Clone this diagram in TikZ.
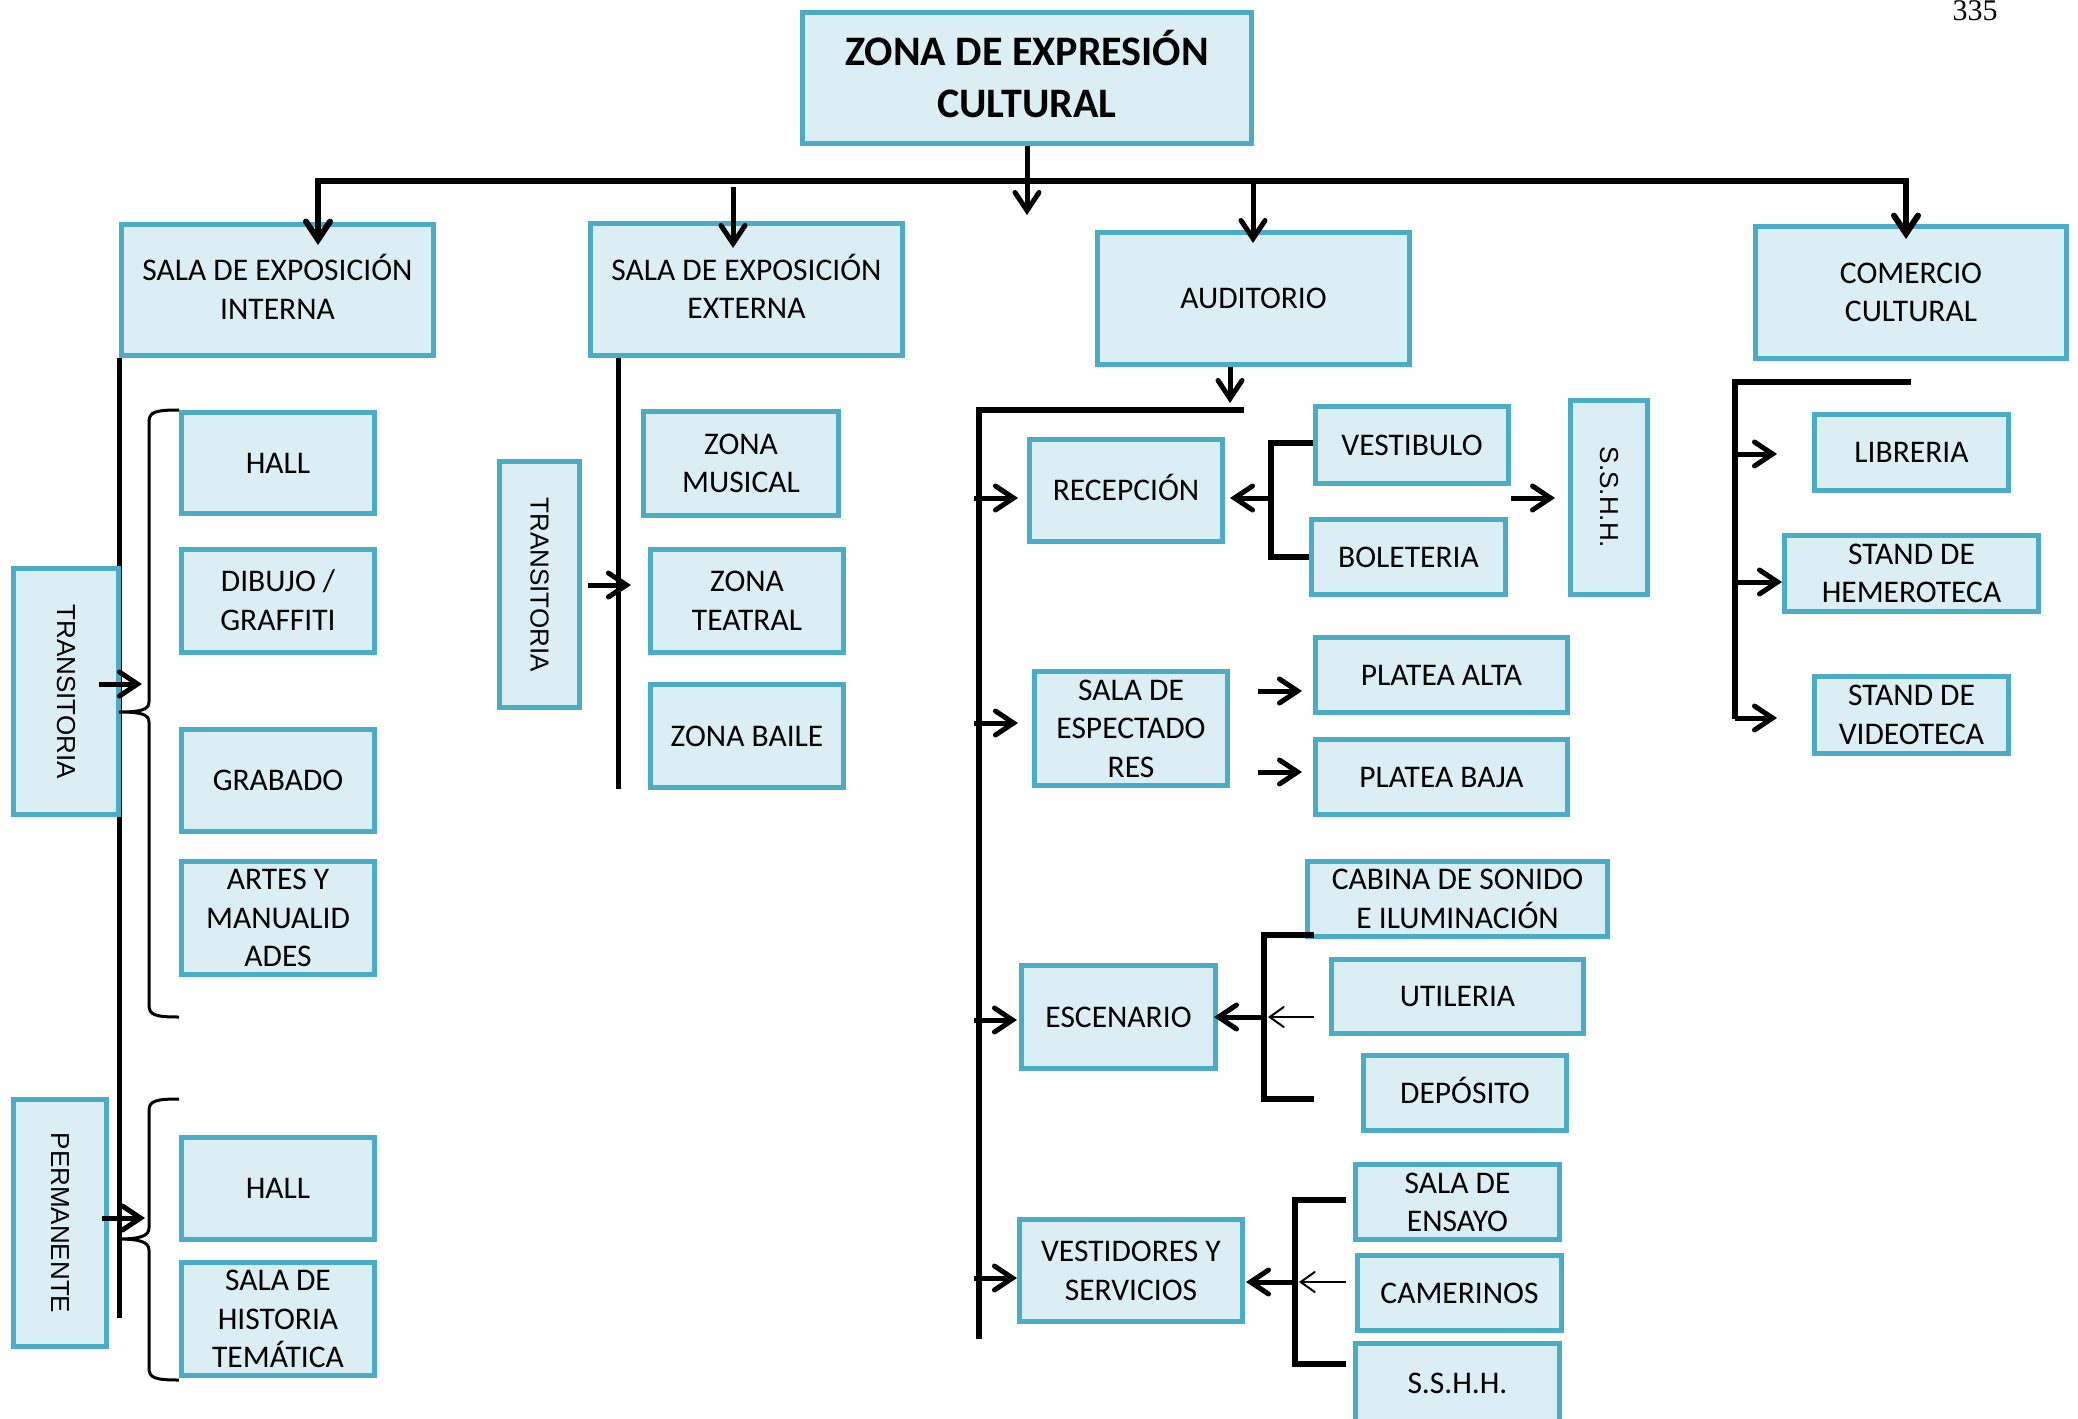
\documentclass[tikz,border=0pt]{standalone}
\usepackage{fontspec}
\newfontfamily\calf{Carlito}
\newfontfamily\arlf{Liberation Sans}
\newfontfamily\tmsf{Liberation Serif}
\usetikzlibrary{arrows.meta}
\definecolor{boxfill}{HTML}{DAEEF3}
\definecolor{boxline}{HTML}{4BACC6}
\newcommand\ls{\rule[-0.25em]{0pt}{1.15em}}
\pgfdeclarelayer{bg}\pgfsetlayers{bg,main}
\tikzset{
 box/.style={draw=boxline, fill=boxfill, line width=5pt, inner sep=0pt, align=center, font=\calf\fontsize{31.5}{38.5}\selectfont},
 wh/.style 2 args={minimum width=#1pt, minimum height=#2pt},
 vtext/.style={rotate=-90, font=\arlf\fontsize{26}{30}\selectfont},
 ln/.style={line width=5pt},
 thk/.style={line width=6pt, line join=miter},
 bracestyle/.style={line width=3pt},
 arr/.style={line width=5pt, -{Straight Barb[length=18pt, width=24pt, line cap=round]}},
 dbl/.style={line width=6pt, line join=miter, {Straight Barb[length=18pt, width=24pt, line cap=round]}-{Straight Barb[length=18pt, width=24pt, line cap=round]}},
 tarr/.style={line width=2pt, -{Straight Barb[length=14pt, width=20pt, line cap=round]}},
}
\begin{document}
\begin{tikzpicture}[x=1pt,y=-1pt]
\useasboundingbox (0,0) rectangle (2078,1419);

% ---------- nodes ----------
\node[box, wh={449}{131}, font=\calf\bfseries\fontsize{42}{52}\selectfont] (top) at (1027,78) {\ls ZONA DE EXPRESIÓN\\\ls CULTURAL};
\node[box, wh={312}{131}] (sint) at (277.5,290) {\ls SALA DE EXPOSICIÓN\\\ls INTERNA};
\node[box, wh={312}{132}] (sext) at (746.5,289.5) {\ls SALA DE EXPOSICIÓN\\\ls EXTERNA};
\node[box, wh={312}{132}] (aud) at (1253.5,298.5) {\ls AUDITORIO};
\node[box, wh={311}{132}] (com) at (1911,292.5) {\ls COMERCIO\\\ls CULTURAL};

\node[box, vtext, wh={246}{105}] (tr1) at (66,691.5) {TRANSITORIA};
\node[box, vtext, wh={247}{93}] (perm) at (60,1223) {PERMANENTE};
\node[box, wh={193}{101}] (hall1) at (278,463) {\ls HALL};
\node[box, wh={193}{103}] (dib) at (278,601) {\ls DIBUJO /\\\ls GRAFFITI};
\node[box, wh={193}{102}] (grab) at (278,780.5) {\ls GRABADO};
\node[box, wh={193}{103}] (artes) at (278,918) {\ls ARTES Y\\\ls MANUALID\\\ls ADES};
\node[box, wh={193}{102}] (hall2) at (278,1188.5) {\ls HALL};
\node[box, wh={193}{103}] (hist) at (278,1319) {\ls SALA DE\\\ls HISTORIA\\\ls TEMÁTICA};

\node[box, vtext, wh={246}{80}] (tr2) at (539.5,584.5) {TRANSITORIA};
\node[box, wh={195}{104}] (zmus) at (741,463.5) {\ls ZONA\\\ls MUSICAL};
\node[box, wh={193}{103}] (ztea) at (747,601) {\ls ZONA\\\ls TEATRAL};
\node[box, wh={193}{103}] (zbai) at (747,736) {\ls ZONA BAILE};

\node[box, wh={193}{102}] (rec) at (1126,490.5) {\ls RECEPCIÓN};
\node[box, wh={193}{77}] (vest) at (1412,445) {\ls VESTIBULO};
\node[box, wh={194}{75}] (bol) at (1408.5,557) {\ls BOLETERIA};
\node[box, vtext, wh={194}{77}] (sshh1) at (1609,497.5) {S.S.H.H.};
\node[box, wh={193}{104}] (esp) at (1131,728.5) {\ls SALA DE\\\ls ESPECTADO\\\ls RES};
\node[box, wh={252}{75}] (palta) at (1441.5,675) {\ls PLATEA ALTA};
\node[box, wh={252}{75}] (pbaja) at (1441.5,777) {\ls PLATEA BAJA};
\node[box, wh={300}{75}] (cab) at (1457.5,899) {\ls CABINA DE SONIDO\\\ls E ILUMINACIÓN};
\node[box, wh={252}{74}] (util) at (1457.5,996.5) {\ls UTILERIA};
\node[box, wh={203}{75}] (dep) at (1465,1093) {\ls DEPÓSITO};
\node[box, wh={194}{103}] (esc) at (1118.5,1017) {\ls ESCENARIO};
\node[box, wh={223}{102}] (vserv) at (1131,1270.5) {\ls VESTIDORES Y\\\ls SERVICIOS};
\node[box, wh={204}{75}] (ens) at (1457.5,1202) {\ls SALA DE\\\ls ENSAYO};
\node[box, wh={204}{75}] (cam) at (1459.5,1293) {\ls CAMERINOS};
\node[box, wh={204}{79}] (sshh2) at (1457.5,1383) {\ls S.S.H.H.};

\node[box, wh={194}{76}] (lib) at (1911.5,452.5) {\ls LIBRERIA};
\node[box, wh={254}{76}] (hem) at (1911.5,573.5) {\ls STAND DE\\\ls HEMEROTECA};
\node[box, wh={194}{77}] (vid) at (1911.5,715) {\ls STAND DE\\\ls VIDEOTECA};

\node[font=\tmsf\fontsize{30}{30}\selectfont, anchor=base, inner sep=0pt] (pg) at (1975,20) {335};

% ---------- coordinates ----------
\coordinate (busL) at (318,181);
\coordinate (busR) at (1906,181);
\coordinate (tipSint) at (318,245);
\coordinate (tipCom) at (1906,239);
\coordinate (tipMid) at (1027,215);
\coordinate (sextS) at (733,187);
\coordinate (tipSext) at (733,248);
\coordinate (audS) at (1253,181);
\coordinate (tipAud) at (1253,243);

% ---------- background ----------
\begin{pgfonlayer}{bg}
\fill[white] (0,0) rectangle (2078,1419);
\draw[ln] (119,358) -- (119,1318);
\draw[ln] (618,358) -- (618,789);
\end{pgfonlayer}

% ---------- top connectors ----------
\draw[dbl] (tipSint) -- (busL) -- (busR) -- (tipCom);
\draw[arr] (top.south) -- (tipMid);
\draw[arr] (sextS) -- (tipSext);
\draw[arr] (audS) -- (tipAud);

% ---------- sala interna ----------
\coordinate (a1s) at (99,684);
\coordinate (a1e) at (142,684);
\draw[arr] (a1s) -- (a1e);
\draw[bracestyle] (179,410) .. controls (155,410) and (149,412) .. (149,422) -- (149,702)
  .. controls (149,710) and (140,712) .. (119,712) .. controls (140,712) and (149,714) .. (149,722)
  -- (149,1005) .. controls (149,1015) and (155,1017) .. (179,1017);
\coordinate (a2s) at (102,1218);
\coordinate (a2e) at (145,1218);
\draw[arr] (a2s) -- (a2e);
\draw[bracestyle] (179,1099) .. controls (155,1099) and (149,1101) .. (149,1111) -- (149,1228)
  .. controls (149,1236) and (140,1239) .. (118,1239) .. controls (140,1239) and (149,1242) .. (149,1250)
  -- (149,1368) .. controls (149,1378) and (155,1380) .. (179,1380);

% ---------- sala externa ----------
\coordinate (a3s) at (588,585);
\coordinate (a3e) at (631,585);
\draw[arr] (a3s) -- (a3e);

% ---------- auditorio ----------
\coordinate (audTip) at (1230,403);
\draw[arr] (aud.south -| audTip) -- (audTip);
\draw[thk] (1244,410) -- (979,410) -- (979,1339);
\draw[arr] (974,498) -- (1018,498);
\draw[arr] (974,723) -- (1018,723);
\draw[arr] (974,1020) -- (1017,1020);
\draw[arr] (974,1278) -- (1017,1278);

\draw[thk] (vest.west |- 0,443) -- (1271,443) -- (1271,557) -- (bol.west |- 0,557);
\draw[arr] (1273,498) -- (1230,498);
\draw[arr] (vest.east |- 0,498) -- (1555,498);

\draw[arr] (1258,691) -- (1302,691);
\draw[arr] (1258,772) -- (1302,772);

\draw[thk] (1314,935) -- (1264,935) -- (1264,1099) -- (1314,1099);
\draw[arr] (1264,1017) -- (1214,1017);
\draw[tarr] (1314,1017) -- (1268,1017);

\draw[thk] (1346,1200) -- (1295,1200) -- (1295,1364) -- (1346,1364);
\draw[arr] (1295,1282) -- (1246,1282);
\draw[tarr] (1346,1282) -- (1299,1282);

% ---------- comercio ----------
\draw[thk] (1911,382) -- (1735,382) -- (1735,719);
\draw[arr] (1735,454) -- (1777,454);
\draw[arr] (1735,582) -- (1782,582);
\draw[arr] (1735,718) -- (1777,718);
\end{tikzpicture}
\end{document}
